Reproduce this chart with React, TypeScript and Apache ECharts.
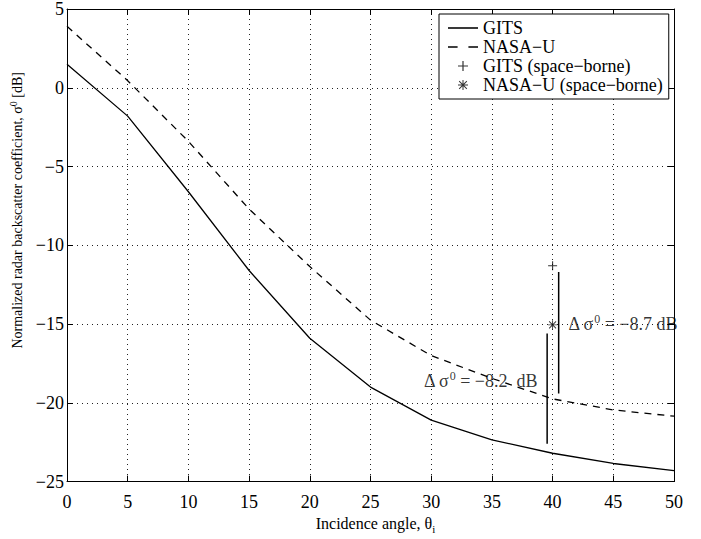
import React, { useEffect, useRef } from "react";
import * as echarts from "echarts";

const angles = [0, 5, 10, 15, 20, 25, 30, 35, 40, 45, 50];
const gits = [1.5, -1.8, -6.6, -11.6, -15.9, -19.0, -21.1, -22.35, -23.2, -23.85, -24.3];
const nasaU = [3.9, 0.45, -3.4, -7.7, -11.35, -14.75, -17.0, -18.45, -19.75, -20.45, -20.85];
const gitsSpace = [[40, -11.3]];
const nasaSpace = [[40, -15.05]];
const deltaLineGits = [[39.55, -15.6], [39.55, -22.6]];
const deltaLineNasa = [[40.5, -11.7], [40.5, -19.4]];
const deltaLabels = [
  { coord: [41.3, -15.0], text: " = −8.7 dB" },
  { coord: [29.4, -18.6], text: " = −8.2  dB" },
];
const xTicks = { min: 0, max: 50, interval: 5 };
const yTicks = { min: -25, max: 5, interval: 5 };

const FONT = "Liberation Serif";
const PLUS = "path://M4.4,0h1.2v4.4h4.4v1.2h-4.4v4.4h-1.2v-4.4h-4.4v-1.2h4.4z";
const STAR =
  "path://M0,4.5H10V5.5H0Z M4.5,0H5.5V10H4.5Z M1.5,0.8L9.2,8.5L8.5,9.2L0.8,1.5Z M8.5,0.8L9.2,1.5L1.5,9.2L0.8,8.5Z";
const SOLID_ICON = "path://M0,0h25v1.3h-25z";
const DASH_ICON = "path://M0,0h8v1.3h-8z M17,0h8v1.3h-8z";

const fmt = (v: number) => String(v).replace("-", "\u2212");

export default function App() {
  const ref = useRef<HTMLDivElement>(null);
  useEffect(() => {
    if (!ref.current) return;
    const chart = echarts.init(ref.current, undefined, { renderer: "svg" });
    const axisCommon = {
      axisLine: { show: true, onZero: false, lineStyle: { color: "#000", width: 1 } },
      axisTick: { show: true, inside: true, length: 6, lineStyle: { color: "#000" } },
    };
    const labelRich = {
      a: { fontFamily: FONT, fontSize: 18, color: "#000" },
      s: { fontFamily: FONT, fontSize: 12, color: "#000", verticalAlign: "top", padding: [0, 0, 10, 0] },
    };
    chart.setOption({
      animation: false,
      backgroundColor: "#fff",
      textStyle: { fontFamily: FONT },
      grid: { left: 67, top: 8, width: 607, height: 477, containLabel: false },
      legend: {
        orient: "vertical",
        left: 439,
        top: 14,
        padding: [5, 6, 5, 9],
        itemGap: 1,
        itemWidth: 30,
        itemHeight: 10,
        backgroundColor: "#fff",
        borderColor: "#000",
        borderWidth: 1,
        borderRadius: 0,
        textStyle: { fontFamily: FONT, fontSize: 18, color: "#000" },
        data: [
          { name: "GITS", icon: SOLID_ICON },
          { name: "NASA\u2212U", icon: DASH_ICON },
          { name: "GITS (space\u2212borne)", icon: PLUS },
          { name: "NASA\u2212U (space\u2212borne)", icon: STAR },
        ],
      },
      xAxis: [
        {
          type: "value",
          ...xTicks,
          position: "bottom",
          ...axisCommon,
          axisLabel: { fontFamily: FONT, fontSize: 18, color: "#000", margin: 11, formatter: fmt },
          splitLine: { show: true, lineStyle: { color: "#222", type: [1, 4], width: 1 } },
          name: "{a|Incidence angle, θ}{b|i}",
          nameLocation: "middle",
          nameGap: 30,
          nameTextStyle: {
            padding: [0, 0, 0, 10],
            rich: {
              a: { fontFamily: FONT, fontSize: 16, color: "#000" },
              b: { fontFamily: FONT, fontSize: 11, color: "#000", verticalAlign: "bottom", padding: [10, 0, 0, 0] },
            },
          },
        },
        {
          type: "value",
          ...xTicks,
          position: "top",
          ...axisCommon,
          axisLabel: { show: false },
          splitLine: { show: false },
        },
      ],
      yAxis: [
        {
          type: "value",
          ...yTicks,
          position: "left",
          ...axisCommon,
          axisLabel: { fontFamily: FONT, fontSize: 18, color: "#000", margin: 3, formatter: fmt },
          splitLine: { show: true, lineStyle: { color: "#222", type: [1, 4], width: 1 } },
          name: "{a|Normalized radar backscatter coefficient, σ}{b|0}{a| [dB]}",
          nameLocation: "middle",
          nameGap: 35,
          nameTextStyle: {
            padding: [0, 0, 0, 70],
            rich: {
              a: { fontFamily: FONT, fontSize: 14, color: "#000" },
              b: { fontFamily: FONT, fontSize: 10, color: "#000", verticalAlign: "top", padding: [0, 0, 9, 0] },
            },
          },
        },
        {
          type: "value",
          ...yTicks,
          position: "right",
          ...axisCommon,
          axisLabel: { show: false },
          splitLine: { show: false },
        },
      ],
      series: [
        {
          name: "GITS",
          type: "line",
          data: angles.map((a, i) => [a, gits[i]]),
          symbol: "none",
          lineStyle: { color: "#000", width: 1.3, type: "solid" },
          itemStyle: { color: "#000" },
        },
        {
          name: "NASA\u2212U",
          type: "line",
          data: angles.map((a, i) => [a, nasaU[i]]),
          symbol: "none",
          lineStyle: { color: "#000", width: 1.3, type: [7, 6] },
          itemStyle: { color: "#000" },
        },
        {
          name: "GITS (space\u2212borne)",
          type: "scatter",
          data: gitsSpace,
          symbol: PLUS,
          symbolSize: 9,
          itemStyle: { color: "#000" },
        },
        {
          name: "NASA\u2212U (space\u2212borne)",
          type: "scatter",
          data: nasaSpace,
          symbol: STAR,
          symbolSize: 9,
          itemStyle: { color: "#000" },
        },
        {
          name: "deltaGits",
          type: "line",
          data: deltaLineGits,
          symbol: "none",
          lineStyle: { color: "#000", width: 1.5 },
        },
        {
          name: "deltaNasa",
          type: "line",
          data: deltaLineNasa,
          symbol: "none",
          lineStyle: { color: "#000", width: 1.5 },
        },
        {
          name: "deltaLabels",
          type: "scatter",
          symbolSize: 0,
          data: deltaLabels.map((d) => ({ value: d.coord, text: d.text })),
          label: {
            show: true,
            position: "right",
            distance: 0,
            formatter: (p: any) => `{a|Δ σ}{s|0}{a|${p.data.text}}`,
            rich: labelRich,
          },
        },
      ],
    });
    return () => chart.dispose();
  }, []);
  return (
    <div
      ref={ref}
      style={{ position: "fixed", left: 0, top: 0, width: 701, height: 539, background: "#fff" }}
    />
  );
}
